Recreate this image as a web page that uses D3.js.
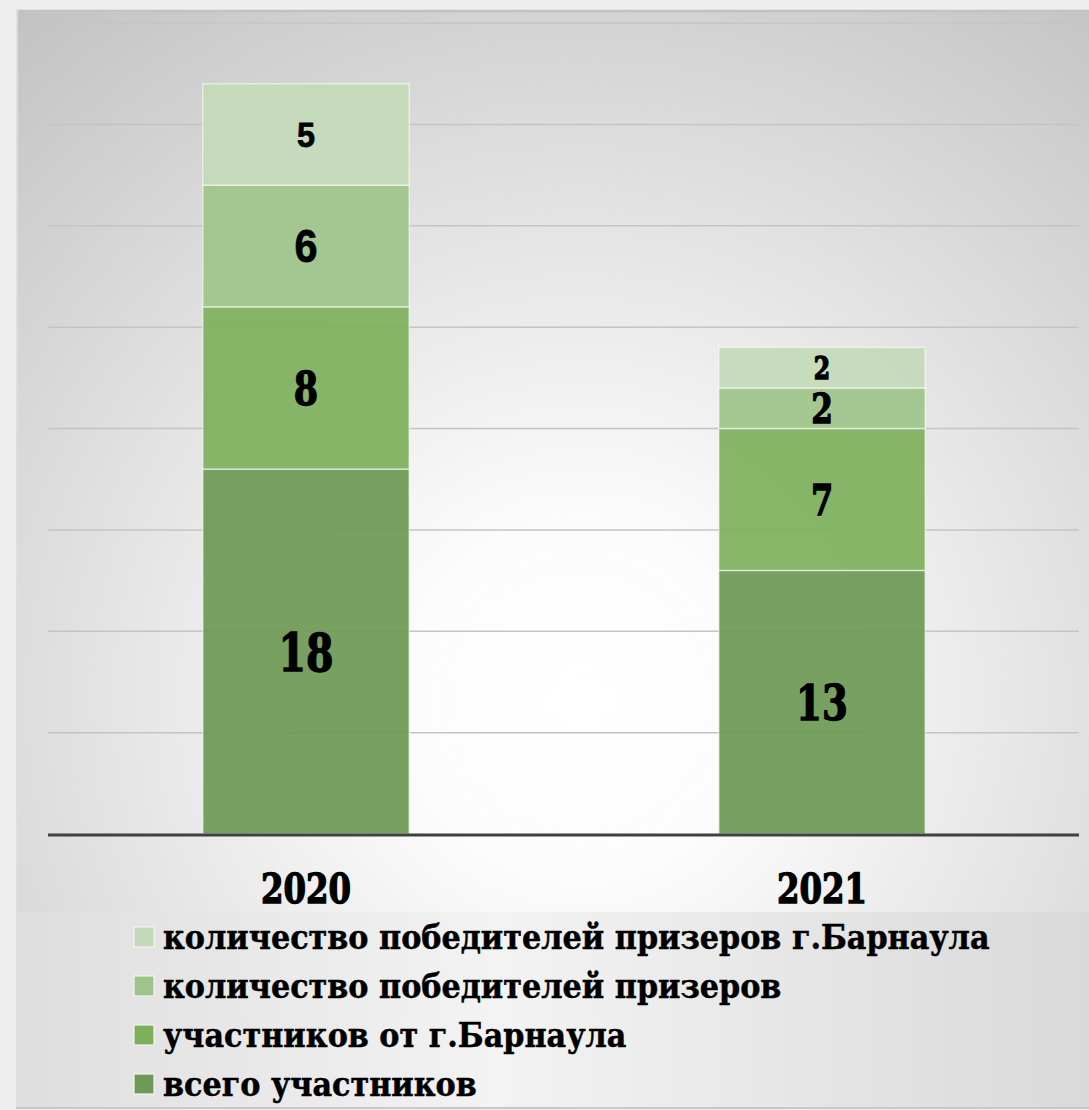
<!DOCTYPE html>
<html>
<head>
<meta charset="utf-8">
<script src="https://cdn.jsdelivr.net/npm/d3@7"></script>
<style>
  html, body { margin: 0; padding: 0; background: #eeeeee; }
  svg { display: block; }
</style>
</head>
<body>
<div id="chart"></div>
<script>
// data
const years = ['2020', '2021'];
const seriesNames = [
    'всего участников',
    'участников от г.Барнаула',
    'количество победителей призеров',
    'количество победителей призеров г.Барнаула'
];
const totalParticipants = [18, 13];
const barnaulParticipants = [8, 7];
const winners = [6, 2];
const barnaulWinners = [5, 2];
const yTicks = [0, 5, 10, 15, 20, 25, 30, 35, 40];

const seriesValues = [totalParticipants, barnaulParticipants, winners, barnaulWinners];
const colors = ['#6e9a55', '#7eb05c', '#9fc48b', '#c4d9b9'];

// label look per segment [series][year]: font size, serif or not
const labelStyle = [
    [{ f: 52, serif: true }, { f: 49, serif: true }],
    [{ f: 46, serif: true }, { f: 42, serif: true }],
    [{ f: 46, serif: false }, { f: 41, serif: true }],
    [{ f: 36, serif: false }, { f: 31, serif: true }]
];

const width = 1089;
const height = 1110;
const margin = { left: 48, right: 1080, top: 23, bottom: 834 };

const svg = d3.select('#chart').append('svg')
    .attr('width', width)
    .attr('height', height);

const defs = svg.append('defs');
const rg = defs.append('radialGradient')
    .attr('id', 'plotBg')
    .attr('gradientUnits', 'userSpaceOnUse')
    .attr('cx', 580).attr('cy', 700).attr('r', 880);
rg.append('stop').attr('offset', 0).attr('stop-color', '#ffffff');
rg.append('stop').attr('offset', 0.2).attr('stop-color', '#fcfcfc');
rg.append('stop').attr('offset', 1).attr('stop-color', '#c3c3c3');

const lg = defs.append('linearGradient')
    .attr('id', 'legendBg')
    .attr('x1', 0).attr('x2', 1).attr('y1', 0).attr('y2', 0);
lg.append('stop').attr('offset', 0).attr('stop-color', '#dedede');
lg.append('stop').attr('offset', 0.45).attr('stop-color', '#f3f3f3');
lg.append('stop').attr('offset', 1).attr('stop-color', '#d9d9d9');

// frame backgrounds
svg.append('rect')
    .attr('x', 16).attr('y', 10).attr('width', width - 16).attr('height', 902)
    .attr('fill', 'url(#plotBg)');
svg.append('rect')
    .attr('x', 16).attr('y', 912).attr('width', width - 16).attr('height', 196)
    .attr('fill', 'url(#legendBg)');
svg.append('line')
    .attr('x1', 16).attr('x2', width).attr('y1', 11).attr('y2', 11)
    .attr('stroke', '#c2c2c2').attr('stroke-width', 2.5);
svg.append('line')
    .attr('x1', 17).attr('x2', 17).attr('y1', 10).attr('y2', 1108)
    .attr('stroke', '#dedede').attr('stroke-width', 2);
svg.append('line')
    .attr('x1', 16).attr('x2', width).attr('y1', 1108).attr('y2', 1108)
    .attr('stroke', '#c8c8c8').attr('stroke-width', 2);

const x = d3.scaleBand()
    .domain(years)
    .range([margin.left, margin.right])
    .paddingInner(0.6)
    .paddingOuter(0.3);

const y = d3.scaleLinear()
    .domain([0, 40])
    .range([margin.bottom, margin.top]);

// gridlines
svg.append('g')
    .selectAll('line')
    .data(yTicks.filter(d => d > 0))
    .enter().append('line')
    .attr('x1', margin.left)
    .attr('x2', margin.right - 1)
    .attr('y1', d => y(d))
    .attr('y2', d => y(d))
    .attr('stroke', '#c4c4c4')
    .attr('stroke-width', 1.5);

// stacked bars
const rows = years.map((yr, i) => {
    const r = { year: yr };
    seriesNames.forEach((s, k) => { r[k] = seriesValues[k][i]; });
    return r;
});
const stack = d3.stack().keys(d3.range(seriesNames.length));
const stacked = stack(rows);

stacked.forEach((layer, k) => {
    svg.append('g')
        .selectAll('rect')
        .data(layer)
        .enter().append('rect')
        .attr('x', d => x(d.data.year))
        .attr('y', d => y(d[1]))
        .attr('width', x.bandwidth())
        .attr('height', d => y(d[0]) - y(d[1]))
        .attr('fill', colors[k])
        .attr('fill-opacity', 0.93)
        .attr('stroke', '#ffffff')
        .attr('stroke-opacity', 0.55)
        .attr('stroke-width', 1.5);
});

// value labels
function scaledText(g, cx, cy, txt, size, serif, sx) {
    const cap = serif ? 0.73 : 0.716;
    g.append('text')
        .attr('transform', `translate(${cx},${cy + size * cap / 2}) scale(${sx},1)`)
        .attr('text-anchor', 'middle')
        .attr('font-family', serif ? 'DejaVu Serif' : 'Liberation Sans')
        .attr('font-weight', 'bold')
        .attr('font-size', size)
        .attr('fill', '#000')
        .attr('stroke', '#000')
        .attr('stroke-width', serif ? 1.4 : 0.8)
        .text(txt);
}

const labels = svg.append('g');
stacked.forEach((layer, k) => {
    layer.forEach((d, i) => {
        const st = labelStyle[k][i];
        scaledText(labels,
            x(d.data.year) + x.bandwidth() / 2,
            (y(d[0]) + y(d[1])) / 2,
            d[1] - d[0], st.f, st.serif, st.serif ? 0.76 : 0.9);
    });
});

// baseline
svg.append('line')
    .attr('x1', margin.left).attr('x2', margin.right - 1)
    .attr('y1', y(0) + 1).attr('y2', y(0) + 1)
    .attr('stroke', '#404040').attr('stroke-width', 3);

// category labels
years.forEach(yr => {
    scaledText(svg, x(yr) + x.bandwidth() / 2, 888, yr, 41, true, 0.79);
});

// legend (reverse order, top = last series)
const legend = svg.append('g');
const legendOrder = d3.range(seriesNames.length).reverse();
const legendTexts = [];
legendOrder.forEach((k, j) => {
    const ly = 937 + j * 49;
    legend.append('rect')
        .attr('x', 134).attr('y', ly - 10)
        .attr('width', 20).attr('height', 20)
        .attr('fill', colors[k])
        .attr('stroke', '#f4f4f4')
        .attr('stroke-width', 1.2);
    const t = legend.append('text')
        .attr('x', 0).attr('y', 0)
        .attr('font-family', 'DejaVu Serif')
        .attr('font-weight', 'bold')
        .attr('font-size', 33)
        .attr('fill', '#000')
        .attr('stroke', '#000')
        .attr('stroke-width', 0.5)
        .text(seriesNames[k]);
    legendTexts.push({ t, ly });
});
// fit the longest line to the reference width
const w0 = legendTexts[0].t.node().getComputedTextLength();
const sx = 827 / w0;
legendTexts.forEach(({ t, ly }) => {
    t.attr('transform', `translate(163,${ly + 12}) scale(${sx},1)`);
});
</script>
</body>
</html>
